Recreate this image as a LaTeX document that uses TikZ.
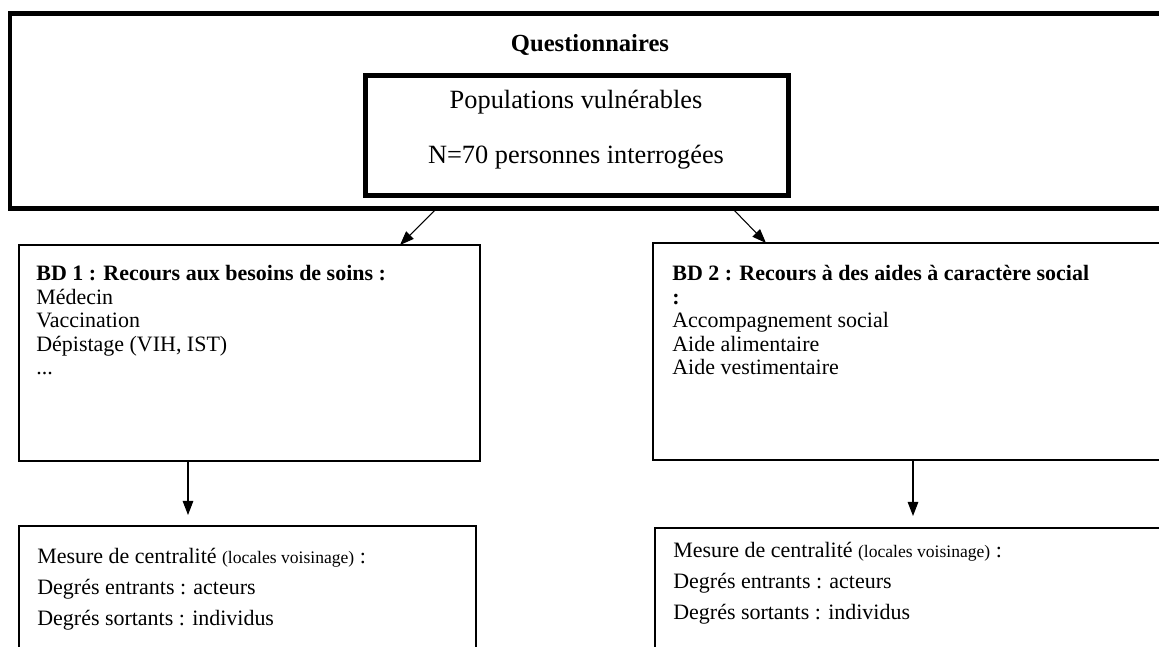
\documentclass[tikz,border=0pt]{standalone}
\usepackage{fontspec}
\setmainfont{Liberation Serif}
\usetikzlibrary{arrows.meta}
\tikzset{
  thickbox/.style={draw, line width=0.1cm, inner sep=0pt, outer sep=0pt, anchor=north west},
  thinbox/.style={draw, line width=0.6pt, inner sep=0pt, outer sep=0pt, anchor=north west},
  boxtext/.style={anchor=north west, inner sep=0pt, align=left, font=\fontsize{12.5}{13.4}\selectfont},
  lowtext/.style={anchor=north west, inner sep=0pt, align=left, font=\fontsize{12.5}{17.6}\selectfont},
  poptext/.style={inner sep=0pt, font=\fontsize{15}{17}\selectfont},
  arr/.style={line width=0.6pt, -{Triangle[length=8pt,width=6pt]}}
}
\begin{document}
\begin{tikzpicture}[x=0.02cm, y=-0.02cm]
    \useasboundingbox (0,0) rectangle (1159,646);
    % cadre du questionnaire
    \node[thickbox, minimum width=1165*0.02cm, minimum height=194.5*0.02cm] (quest) at (10,13.5) {};
    \node[inner sep=0pt, font=\bfseries\fontsize{14}{16}\selectfont] (qtitle) at (590,45) {Questionnaires};
    \node[thickbox, minimum width=423*0.02cm, minimum height=120*0.02cm] (pop) at (365,75) {};
    \node[poptext] (popA) at (576,102) {Populations vulnérables};
    \node[poptext] (popB) at (576,157) {N=70 personnes interrogées};
    % bases de donnees
    \node[thinbox, minimum width=461*0.02cm, minimum height=216*0.02cm] (bdA) at (19,245) {};
    \node[boxtext] (bdAtxt) at (36,265) {\textbf{BD 1 : Recours aux besoins de soins :}\\
        Médecin\\ Vaccination\\ Dépistage (VIH, IST)\\ ...};
    \node[thinbox, minimum width=530*0.02cm, minimum height=217*0.02cm] (bdB) at (653,243) {};
    \node[boxtext] (bdBtxt) at (672,265) {\textbf{BD 2 : Recours à des aides à caractère social}\\
        \textbf{:}\\ Accompagnement social\\ Aide alimentaire\\ Aide vestimentaire};
    % mesures
    \node[thinbox, minimum width=457*0.02cm, minimum height=140*0.02cm] (lowA) at (19,526) {};
    \node[lowtext] (lowAtxt) at (37,548) {Mesure de centralité {\fontsize{10}{12}\selectfont(locales voisinage)} :\\
        Degrés entrants : acteurs\\ Degrés sortants : individus};
    \node[thinbox, minimum width=528*0.02cm, minimum height=138*0.02cm] (lowB) at (655,528) {};
    \node[lowtext] (lowBtxt) at (673,542) {Mesure de centralité {\fontsize{10}{12}\selectfont(locales voisinage)} :\\
        Degrés entrants : acteurs\\ Degrés sortants : individus};
    % fleches
    \draw[arr] (quest.south -| 437,0) -- (bdA.north -| 400,0);
    \draw[arr] (quest.south -| 732,0) -- (bdB.north -| 766,0);
    \draw[arr, shorten >=0.22cm] (bdA.south -| 188,0) -- (lowA.north -| 188,0);
    \draw[arr, shorten >=0.24cm] (bdB.south -| 913,0) -- (lowB.north -| 913,0);
\end{tikzpicture}
\end{document}
